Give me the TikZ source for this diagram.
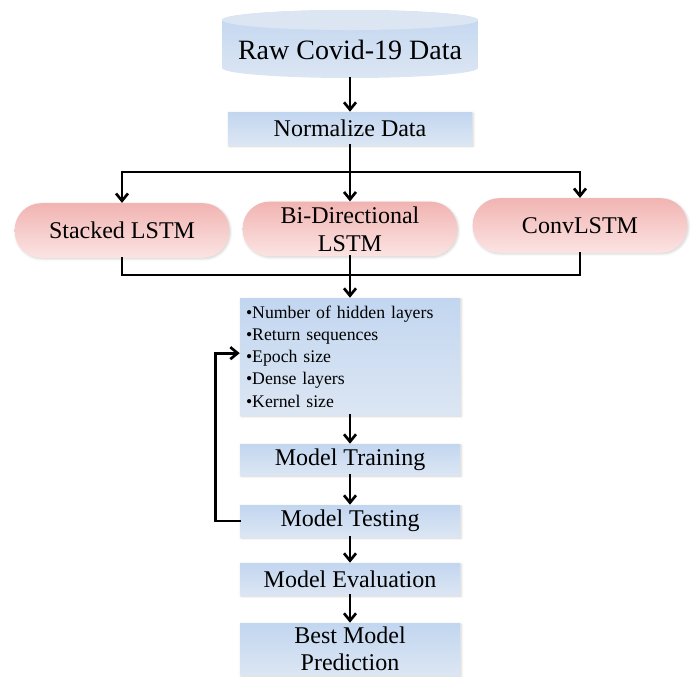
\documentclass[tikz,border=0pt]{standalone}
\usepackage{fontspec}
\setmainfont{Liberation Serif}
\usepackage{tikz}
\usetikzlibrary{arrows.meta}
\usetikzlibrary{shadows.blur}
\usetikzlibrary{shapes}

\definecolor{boxtop}{RGB}{194,214,240}
\definecolor{boxbot}{RGB}{220,230,243}
\definecolor{cyltop}{RGB}{220,230,242}
\definecolor{pilltop}{RGB}{241,180,178}
\definecolor{pillbot}{RGB}{251,228,227}

\tikzset{
  stepbox/.style={rectangle, top color=boxtop, bottom color=boxbot, draw=none,
    minimum width=165pt, inner sep=0pt, font=\fontsize{18}{20}\selectfont,
    blur shadow={shadow xshift=0.8pt, shadow yshift=-0.8pt, shadow blur steps=4, shadow opacity=18}},
  pill/.style={rectangle, rounded corners=20pt, top color=pilltop, bottom color=pillbot, draw=none,
    minimum width=161pt, minimum height=41pt, align=center, inner sep=0pt,
    font=\fontsize{18}{20}\selectfont,
    blur shadow={shadow xshift=0.8pt, shadow yshift=-0.8pt, shadow blur steps=4, shadow opacity=18}},
  flow/.style={line width=2pt, line cap=rect},
  arr/.style={flow, -{Straight Barb[length=5.5pt,width=9pt,line width=2pt]}}
}

\begin{document}
\begin{tikzpicture}[x=0.75pt,y=0.75pt,yscale=-1,xscale=1]
\useasboundingbox (0,0) rectangle (693,676);

%Cylinder: raw data
\path [top color=boxtop, bottom color=boxbot] (222,20) -- (222,68) arc[start angle=180, end angle=0, x radius=128, y radius=10] -- (478,20) arc[start angle=0, end angle=-180, x radius=128, y radius=10] -- cycle ;
\fill [cyltop] (350,20) ellipse [x radius=128, y radius=10] ;
\node [minimum width=192pt, minimum height=42pt, inner sep=0pt, font=\fontsize{21}{24}\selectfont] (raw) at (350,50) {Raw Covid-19 Data};

%Normalize
\node [stepbox, minimum width=183pt, minimum height=24.75pt] (norm) at (350,128.5) {Normalize Data};

%Models
\node [pill] (stacked) at (122,230.5) {Stacked LSTM};
\node [pill, font=\fontsize{18}{21}\selectfont] (bidir) at (350,229) {Bi-Directional\\LSTM};
\node [pill] (conv) at (580,225.5) {ConvLSTM};

%Parameters
\node [stepbox, minimum height=87.75pt, text width=156pt, inner xsep=4.5pt, align=left,
  font=\fontsize{13.3}{16.7}\selectfont] (params) at (350,356.5)
  {•Number of hidden layers\\•Return sequences\\•Epoch size\\•Dense layers\\•Kernel size};

%Training and testing
\node [stepbox, minimum height=23.25pt] (train) at (350,459.5) {Model Training};
\node [stepbox, minimum height=24pt] (test) at (350,521) {Model Testing};
\node [stepbox, minimum height=24pt] (eval) at (350,579) {Model Evaluation};
\node [stepbox, minimum height=39pt, align=center, font=\fontsize{18}{20.5}\selectfont] (best) at (350,649) {Best Model\\Prediction};

\coordinate (fork) at (350,172);
\coordinate (merge) at (350,275);

%Connectors
\draw [arr] (raw.south) -- (norm.north);
\draw [arr] (norm.south) -- (bidir.north);
\draw [arr] (fork) -| (stacked.north);
\draw [arr] (fork) -| (conv.north);
\draw [flow] (stacked.south) |- (merge) -| (conv.south);
\draw [arr] (bidir.south) -- (params.north);
\draw [arr] (params.south) -- (train.north);
\draw [arr] (train.south) -- (test.north);
\draw [arr] (test.south) -- (eval.north);
\draw [arr] (eval.south) -- (best.north);
\draw [arr] (test.west) -- ++(-24,0) |- ([yshift=-2.5pt]params.west);

\end{tikzpicture}
\end{document}
